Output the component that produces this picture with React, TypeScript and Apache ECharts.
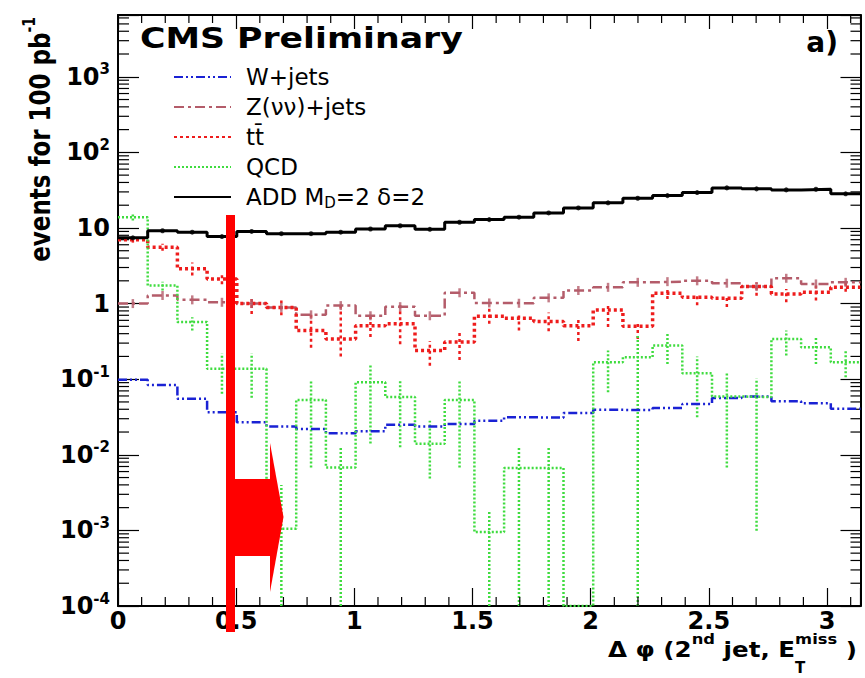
import { useEffect, useRef } from 'react';
import * as echarts from 'echarts';

// ---- axis ranges / binning ----
const N_BINS = 25;
const X_MIN = 0;
const X_MAX = Math.PI;
const Y_MIN = 1e-4;
const Y_MAX = 6560;

// ---- series names ----
const NAME_W = 'W+jets';
const NAME_Z = 'Z(νν)+jets';
const NAME_TT = 'tt\u0304';
const NAME_QCD = 'QCD';
const NAME_ADD = 'ADD';

// ---- bin contents (events for 100 pb^-1), 25 bins in Δφ from 0 to π ----
const wJets = [0.098, 0.084, 0.055, 0.0366, 0.027, 0.0236, 0.022, 0.0193, 0.0205, 0.025, 0.0236, 0.0256, 0.0283, 0.0313, 0.031, 0.0358, 0.0393, 0.039, 0.0417, 0.047, 0.0565, 0.059, 0.051, 0.048, 0.0405];
const zJets = [1.0, 1.28, 1.12, 1.04, 1.0, 0.89, 0.71, 0.94, 0.69, 0.91, 0.69, 1.39, 1.02, 1.01, 1.19, 1.49, 1.64, 1.91, 1.95, 2.0, 1.86, 1.68, 2.16, 1.82, 1.91];
const ttbar = [6.96, 5.56, 2.88, 2.12, 1.0, 0.89, 0.44, 0.34, 0.51, 0.54, 0.24, 0.31, 0.68, 0.64, 0.58, 0.51, 0.82, 0.5, 1.37, 1.21, 1.18, 1.68, 1.34, 1.41, 1.64];
const ttbarLow = [6.4, 5.0, 2.35, 1.8, 0.73, 0.7, 0.26, 0.2, 0.36, 0.29, 0.15, 0.18, 0.54, 0.44, 0.43, 0.32, 0.49, 0.34, 1.15, 0.95, 0.9, 1.27, 1.04, 1.1, 1.43];
const ttbarHigh = [7.5, 6.2, 3.5, 2.5, 1.15, 1.1, 0.73, 1.0, 0.73, 0.95, 0.32, 0.44, 0.94, 0.73, 0.76, 0.66, 0.95, 0.56, 1.56, 1.34, 1.27, 1.9, 1.56, 1.73, 1.9];
const qcd = [13.9, 1.73, 0.57, 0.137, 0.137, 0.00105, 0.053, 0.0068, 0.091, 0.058, 0.014, 0.053, 0.00095, 0.0067, 0.0067, 0.0001, 0.167, 0.195, 0.278, 0.12, 0.059, 0.058, 0.34, 0.264, 0.167];
const qcdLow = [12.6, 1.49, 0.44, 0.064, 0.057, 0.0001, 0.0068, 0.0001, 0.0141, 0.0126, 0.00484, 0.0068, 0.0001, 0.0001, 0.0001, 0.0001, 0.067, 0.0001, 0.159, 0.0313, 0.0068, 0.00099, 0.205, 0.159, 0.106];
const qcdHigh = [15.3, 1.95, 0.66, 0.218, 0.218, 0.004, 0.096, 0.0126, 0.161, 0.096, 0.0283, 0.096, 0.00183, 0.0126, 0.0126, 0.0001, 0.239, 0.377, 0.397, 0.199, 0.119, 0.102, 0.44, 0.358, 0.239];
const addSignal = [7.4, 9.2, 8.8, 7.7, 9.0, 8.4, 8.4, 8.8, 9.7, 10.7, 9.6, 11.9, 12.9, 13.9, 15.8, 18.4, 21.5, 24.7, 26.8, 29.4, 33.9, 32.9, 31.9, 32.5, 28.3];

const FONT = 'DejaVu Sans';

const edges = Array.from({ length: N_BINS + 1 }, (_, i) => X_MIN + (i * (X_MAX - X_MIN)) / N_BINS);
const centers = Array.from({ length: N_BINS }, (_, i) => (edges[i] + edges[i + 1]) / 2);
const hist = (vals: number[]) => [...vals.map((v, i) => [edges[i], v]), [edges[N_BINS], vals[N_BINS - 1]]];

const yMinor: number[][] = [];
for (let e = -4; e <= 3; e++) {
  for (let m = 2; m <= 9; m++) {
    const v = m * Math.pow(10, e);
    if (v < Y_MAX) yMinor.push([0, v]);
  }
}
const xMinor: number[][] = [];
for (let k = 1; k <= 31; k++) if (k % 5 !== 0) xMinor.push([k / 10, Y_MIN]);

function lineSeries(name: string, vals: number[], color: string, width: number, dash: any) {
  return {
    name,
    type: 'line',
    step: 'end',
    data: hist(vals),
    symbol: 'none',
    clip: true,
    itemStyle: { color },
    lineStyle: { color, width, type: dash, cap: 'butt' },
  };
}

function errorSeries(low: number[], high: number[], color: string, width: number, dash: number[]) {
  return {
    type: 'custom',
    silent: true,
    data: centers.map((c, i) => [c, low[i], high[i]]),
    encode: { x: 0, y: [1, 2] },
    renderItem: (params: any, api: any) => {
      const c = api.value(0);
      const p1 = api.coord([c, api.value(1)]);
      const p2 = api.coord([c, api.value(2)]);
      const cs = params.coordSys;
      const clamp = (y: number) => Math.min(Math.max(y, cs.y), cs.y + cs.height);
      return {
        type: 'line',
        shape: { x1: p1[0], y1: clamp(p1[1]), x2: p2[0], y2: clamp(p2[1]) },
        style: { stroke: color, lineWidth: width, lineDash: dash },
      };
    },
  };
}

function markerSeries(vals: number[], color: string, symbol: string, size: any) {
  return {
    type: 'scatter',
    silent: true,
    data: centers.map((c, i) => [c, vals[i]]),
    symbol,
    symbolSize: size,
    itemStyle: { color },
    z: 3,
  };
}

const tickStyle = { stroke: '#000', lineWidth: 1.2 };

function buildOption() {
  const yLabel = (v: number) => {
    const e = Math.log10(v);
    const r = Math.round(e);
    if (Math.abs(e - r) > 1e-6) return '';
    if (r === 0) return '{b|1}';
    if (r === 1) return '{b|10}';
    return `{b|10}{s|${r}}`;
  };
  const xLabel = (v: number) => {
    const k = v / 0.5;
    return Math.abs(k - Math.round(k)) < 1e-6 ? String(Math.round(k) * 0.5) : '';
  };
  const axisLine = { show: true, onZero: false, lineStyle: { color: '#000', width: 2 } };
  const labelRich = {
    b: { fontFamily: FONT, fontWeight: 'bold', fontSize: 24, lineHeight: 30, color: '#000' },
    s: { fontFamily: FONT, fontWeight: 'bold', fontSize: 15, lineHeight: 15, verticalAlign: 'top', color: '#000' },
  };

  return {
    animation: false,
    backgroundColor: '#ffffff',
    grid: { left: 118, right: 4.5, top: 15, bottom: 72, containLabel: false, outerBoundsMode: 'none' },
    legend: {
      orient: 'vertical',
      left: 173,
      top: 64,
      padding: 0,
      itemWidth: 57,
      itemHeight: 14,
      itemGap: 4,
      selectedMode: false,
      data: [NAME_W, NAME_Z, NAME_TT, NAME_QCD, NAME_ADD],
      itemStyle: { color: 'rgba(0,0,0,0)', borderWidth: 0, opacity: 0 },
      formatter: (name: string) => (name === NAME_ADD ? 'ADD M{sub|D}=2 δ=2' : name),
      textStyle: {
        fontFamily: FONT,
        fontSize: 23,
        color: '#000',
        lineHeight: 26,
        padding: [0, 0, 0, 10],
        rich: {
          sub: { fontFamily: FONT, fontSize: 15, lineHeight: 1, verticalAlign: 'bottom', color: '#000' },
        },
      },
    },
    xAxis: [
      {
        type: 'value', min: X_MIN, max: X_MAX, interval: 0.5, position: 'bottom',
        axisLine,
        axisTick: { show: true, inside: true, length: 18, lineStyle: { color: '#000', width: 1.2 } },
        axisLabel: { formatter: xLabel, fontFamily: FONT, fontWeight: 'bold', fontSize: 24, color: '#000', margin: 3 },
        splitLine: { show: false },
      },
      {
        type: 'value', min: X_MIN, max: X_MAX, interval: 0.5, position: 'top',
        axisLine,
        axisTick: { show: true, inside: true, length: 14, lineStyle: { color: '#000', width: 1.2 } },
        axisLabel: { show: false },
        splitLine: { show: false },
      },
    ],
    yAxis: [
      {
        type: 'log', logBase: 10, min: Y_MIN, max: Y_MAX, position: 'left',
        axisLine,
        axisTick: { show: true, inside: true, length: 21, lineStyle: { color: '#000', width: 1.2 } },
        axisLabel: { formatter: yLabel, rich: labelRich, margin: 8 },
        splitLine: { show: false },
      },
      {
        type: 'log', logBase: 10, min: Y_MIN, max: Y_MAX, position: 'right',
        axisLine,
        axisTick: { show: true, inside: true, length: 20, lineStyle: { color: '#000', width: 1.2 } },
        axisLabel: { show: false },
        splitLine: { show: false },
      },
    ],
    series: [
      lineSeries(NAME_W, wJets, '#1a22d4', 2.5, [9, 3, 2, 3, 2, 3]),
      lineSeries(NAME_Z, zJets, '#b45c6a', 2.5, [10, 4, 3, 4]),
      markerSeries(zJets, '#b45c6a', 'rect', [2.5, 9]),
      errorSeries(ttbarLow, ttbarHigh, '#ee1c1c', 2.5, [3, 3]),
      lineSeries(NAME_TT, ttbar, '#ee1c1c', 3.5, [3, 3]),
      errorSeries(qcdLow, qcdHigh, '#3fdc3f', 2.5, [2, 2]),
      lineSeries(NAME_QCD, qcd, '#3fdc3f', 2.5, [2, 2]),
      lineSeries(NAME_ADD, addSignal, '#000000', 3, 'solid'),
      markerSeries(addSignal, '#000', 'circle', 5),
      {
        type: 'custom',
        silent: true,
        data: yMinor,
        renderItem: (params: any, api: any) => {
          const y = api.coord([X_MIN, api.value(1)])[1];
          const cs = params.coordSys;
          return {
            type: 'group',
            children: [
              { type: 'line', shape: { x1: cs.x, y1: y, x2: cs.x + 11, y2: y }, style: tickStyle },
              { type: 'line', shape: { x1: cs.x + cs.width, y1: y, x2: cs.x + cs.width - 10, y2: y }, style: tickStyle },
            ],
          };
        },
      },
      {
        type: 'custom',
        silent: true,
        data: xMinor,
        renderItem: (params: any, api: any) => {
          const x = api.coord([api.value(0), Y_MIN])[0];
          const cs = params.coordSys;
          return {
            type: 'group',
            children: [
              { type: 'line', shape: { x1: x, y1: cs.y + cs.height, x2: x, y2: cs.y + cs.height - 9 }, style: tickStyle },
              { type: 'line', shape: { x1: x, y1: cs.y, x2: x, y2: cs.y + 8 }, style: tickStyle },
            ],
          };
        },
      },
    ],
    graphic: [
      {
        type: 'text', x: 140, y: 38, scaleX: 1.24, z: 50,
        style: { text: 'CMS Preliminary', fontFamily: FONT, fontWeight: 'bold', fontSize: 28, fill: '#000', align: 'left', verticalAlign: 'middle' },
      },
      {
        type: 'text', x: 838, y: 42, z: 50,
        style: { text: 'a)', fontFamily: FONT, fontWeight: 'bold', fontSize: 28, fill: '#000', align: 'right', verticalAlign: 'middle' },
      },
      {
        type: 'text', x: 857, y: 650, scaleX: 1.17, z: 50,
        style: {
          text: '{b|Δ φ (2}{s|nd}{b| jet, E}{s|miss}{b| )}',
          align: 'right', verticalAlign: 'middle', fill: '#000',
          rich: {
            b: { fontFamily: FONT, fontWeight: 'bold', fontSize: 21, lineHeight: 36, fill: '#000' },
            s: { fontFamily: FONT, fontWeight: 'bold', fontSize: 14, lineHeight: 14, verticalAlign: 'top', fill: '#000' },
          },
        },
      },
      {
        type: 'text', x: 800, y: 668, z: 50,
        style: { text: 'T', fontFamily: FONT, fontWeight: 'bold', fontSize: 15, fill: '#000', align: 'center', verticalAlign: 'middle' },
      },
      {
        type: 'text', x: 40, y: 17, rotation: Math.PI / 2, scaleY: 1.25, z: 50,
        style: {
          text: '{b|events for 100 pb}{s|-1}',
          align: 'right', verticalAlign: 'middle', fill: '#000',
          rich: {
            b: { fontFamily: FONT, fontWeight: 'bold', fontSize: 23, lineHeight: 32, fill: '#000' },
            s: { fontFamily: FONT, fontWeight: 'bold', fontSize: 14, lineHeight: 14, verticalAlign: 'top', fill: '#000' },
          },
        },
      },
      { type: 'rect', z: 100, shape: { x: 226, y: 215, width: 9, height: 417 }, style: { fill: '#ff0000' } },
      { type: 'rect', z: 100, shape: { x: 235, y: 479, width: 35, height: 77 }, style: { fill: '#ff0000' } },
      { type: 'polygon', z: 100, shape: { points: [[270, 443], [283.5, 517], [270, 592]] }, style: { fill: '#ff0000' } },
    ],
  };
}

export default function App() {
  const ref = useRef<HTMLDivElement>(null);
  useEffect(() => {
    if (!ref.current) return;
    const chart = echarts.init(ref.current, null, { renderer: 'svg' });
    chart.setOption(buildOption() as any);
    return () => chart.dispose();
  }, []);
  return (
    <div
      ref={ref}
      style={{ position: 'fixed', left: 0, top: 0, width: 865, height: 678, background: '#fff' }}
    />
  );
}
